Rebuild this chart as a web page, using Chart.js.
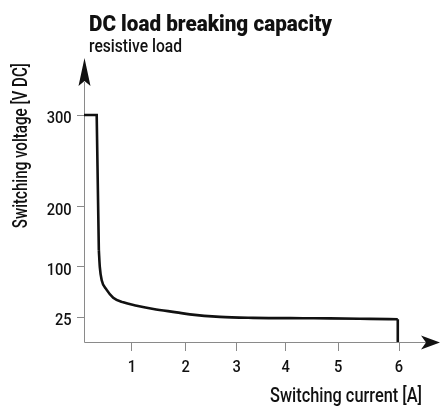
<!DOCTYPE html>
<html>
<head>
<meta charset="utf-8">
<title>DC load breaking capacity</title>
<script src="https://cdn.jsdelivr.net/npm/chart.js@4.4.1/dist/chart.umd.min.js"></script>
<style>
  html, body { margin: 0; padding: 0; background: #fff; }
  #wrap { width: 441px; height: 408px; }
</style>
</head>
<body>
<div id="wrap"><canvas id="chart" width="441" height="408"></canvas></div>
<script>
// values: current [A], voltage [V DC]
const edgeCurrent = [0, 0.265, 0.31];
const edgeVoltage = [300, 300, 128];
const curveCurrent = [0.31, 0.33, 0.37, 0.47, 0.61, 0.82, 1.09, 1.4, 1.83, 2.08, 2.67, 3.33, 4.33, 4.84, 5.52, 5.98];
const curveVoltage = [128, 100, 80, 66, 54, 47, 42, 37, 32, 29, 25.2, 24.2, 23.8, 23.7, 23.2, 22.8];
const tailCurrent = [5.98, 5.98];
const tailVoltage = [22.8, 0];
const xTicks = [1, 2, 3, 4, 5, 6];
const yTicks = [25, 100, 200, 300];

const FONT = "Roboto, 'Liberation Sans', sans-serif";
const INK = '#111';
const AXIS = '#8a8a8a';

// the drawing's axes are not evenly spaced, so map value -> fraction of axis length
const scaleKnots = {
  x: { values: [0, 1, 2, 3, 4, 5, 6], frac: [0, 0.152, 0.323, 0.485, 0.640, 0.807, 1] },
  y: { values: [0, 25, 100, 200, 300], frac: [0, 0.110, 0.331, 0.595, 1] }
};

function interp(v, from, to) {
  if (v <= from[0]) return to[0] + (v - from[0]) * (to[1] - to[0]) / (from[1] - from[0]);
  for (let i = 1; i < from.length; i++) {
    if (v <= from[i]) {
      const t = (v - from[i - 1]) / (from[i] - from[i - 1]);
      return to[i - 1] + t * (to[i] - to[i - 1]);
    }
  }
  const n = from.length - 1;
  return to[n] + (v - from[n]) * (to[n] - to[n - 1]) / (from[n] - from[n - 1]);
}

class PiecewiseScale extends Chart.LinearScale {
  getPixelForValue(value) {
    const k = scaleKnots[this.id];
    return this.getPixelForDecimal(interp(value, k.values, k.frac));
  }
  getValueForPixel(pixel) {
    const k = scaleKnots[this.id];
    return interp(this.getDecimalForPixel(pixel), k.frac, k.values);
  }
}
PiecewiseScale.id = 'piecewise';
PiecewiseScale.defaults = {};
Chart.register(PiecewiseScale);

const toPoints = (xs, ys) => xs.map((x, i) => ({ x: x, y: ys[i] }));

const lineStyle = {
  borderColor: INK,
  borderWidth: 2.6,
  pointRadius: 0,
  showLine: true,
  clip: false,
  borderJoinStyle: 'miter',
  borderCapStyle: 'butt'
};

// condensed look: squeeze text horizontally by sx
function squeezed(ctx, text, x, y, sx, align) {
  const w = ctx.measureText(text).width * sx;
  let left = x;
  if (align === 'right') left = x - w;
  if (align === 'center') left = x - w / 2;
  ctx.save();
  ctx.translate(left, y);
  ctx.scale(sx, 1);
  ctx.textAlign = 'left';
  ctx.fillText(text, 0, 0);
  ctx.restore();
}
function fitSqueeze(ctx, text, width) {
  return width / ctx.measureText(text).width;
}

// axes with arrow heads, tick labels, titles
const decorations = {
  id: 'decorations',
  beforeDatasetsDraw(chart) {
    const ctx = chart.ctx;
    const a = chart.chartArea;
    const ox = a.left + 0.5, oy = a.bottom + 0.5;
    ctx.save();
    ctx.strokeStyle = AXIS;
    ctx.lineWidth = 1;
    ctx.beginPath();
    ctx.moveTo(ox, oy);
    ctx.lineTo(ox, 82);
    ctx.moveTo(ox, oy);
    ctx.lineTo(426, oy);
    ctx.stroke();
    ctx.restore();
  },
  afterDraw(chart) {
    const ctx = chart.ctx;
    const a = chart.chartArea;
    const ox = a.left + 0.5, oy = a.bottom + 0.5;
    const xs = chart.scales.x, ys = chart.scales.y;
    ctx.save();
    ctx.fillStyle = INK;
    // y arrow
    ctx.beginPath();
    ctx.moveTo(ox, 58);
    ctx.lineTo(ox + 6, 86);
    ctx.lineTo(ox, 81);
    ctx.lineTo(ox - 6, 86);
    ctx.closePath();
    ctx.fill();
    // x arrow
    ctx.beginPath();
    ctx.moveTo(440, oy);
    ctx.lineTo(421, oy - 7);
    ctx.lineTo(426, oy);
    ctx.lineTo(421, oy + 7);
    ctx.closePath();
    ctx.fill();

    ctx.textBaseline = 'alphabetic';

    // tick labels at the scale's own tick positions
    ctx.font = '500 17px ' + FONT;
    const tsx = fitSqueeze(ctx, '300', 25);
    ys.ticks.forEach(t => {
      squeezed(ctx, String(t.value), 71.7, ys.getPixelForValue(t.value) + 8.3, tsx, 'right');
    });
    xs.ticks.forEach(t => {
      squeezed(ctx, String(t.value), xs.getPixelForValue(t.value), 371.7, tsx, 'center');
    });

    ctx.font = '900 22px ' + FONT;
    const title = 'DC load breaking capacity';
    squeezed(ctx, title, 89, 30.7, fitSqueeze(ctx, title, 243), 'left');

    ctx.font = '500 19px ' + FONT;
    const sub = 'resistive load';
    squeezed(ctx, sub, 89, 51.7, fitSqueeze(ctx, sub, 93), 'left');

    ctx.font = '500 20px ' + FONT;
    const xt = 'Switching current [A]';
    squeezed(ctx, xt, 422, 402.3, fitSqueeze(ctx, xt, 152), 'right');

    const yt = 'Switching voltage [V DC]';
    const ysx = fitSqueeze(ctx, yt, 165);
    ctx.translate(27.3, 145.7);
    ctx.rotate(-Math.PI / 2);
    squeezed(ctx, yt, 0, 0, ysx, 'center');
    ctx.restore();
  }
};

new Chart(document.getElementById('chart'), {
  type: 'scatter',
  data: {
    datasets: [
      Object.assign({ data: toPoints(edgeCurrent, edgeVoltage), tension: 0 }, lineStyle),
      Object.assign({ data: toPoints(curveCurrent, curveVoltage), cubicInterpolationMode: 'monotone' }, lineStyle),
      Object.assign({ data: toPoints(tailCurrent, tailVoltage), tension: 0 }, lineStyle)
    ]
  },
  options: {
    responsive: false,
    animation: false,
    layout: { padding: { top: 115, right: 42, left: 0, bottom: 36 } },
    plugins: {
      legend: { display: false },
      tooltip: { enabled: false }
    },
    scales: {
      x: {
        type: 'piecewise',
        min: 0,
        max: 6,
        border: { display: false },
        grid: { drawOnChartArea: false, color: AXIS, tickLength: 9, tickWidth: 1 },
        afterBuildTicks: s => { s.ticks = xTicks.map(v => ({ value: v })); },
        afterFit: s => { s.height = 30; },
        ticks: { display: false, autoSkip: false }
      },
      y: {
        type: 'piecewise',
        min: 0,
        max: 300,
        border: { display: false },
        grid: { drawOnChartArea: false, color: AXIS, tickLength: 7, tickWidth: 1 },
        afterBuildTicks: s => { s.ticks = yTicks.map(v => ({ value: v })); },
        afterFit: s => { s.width = 84; },
        ticks: { display: false, autoSkip: false }
      }
    }
  },
  plugins: [decorations]
});
</script>
</body>
</html>
